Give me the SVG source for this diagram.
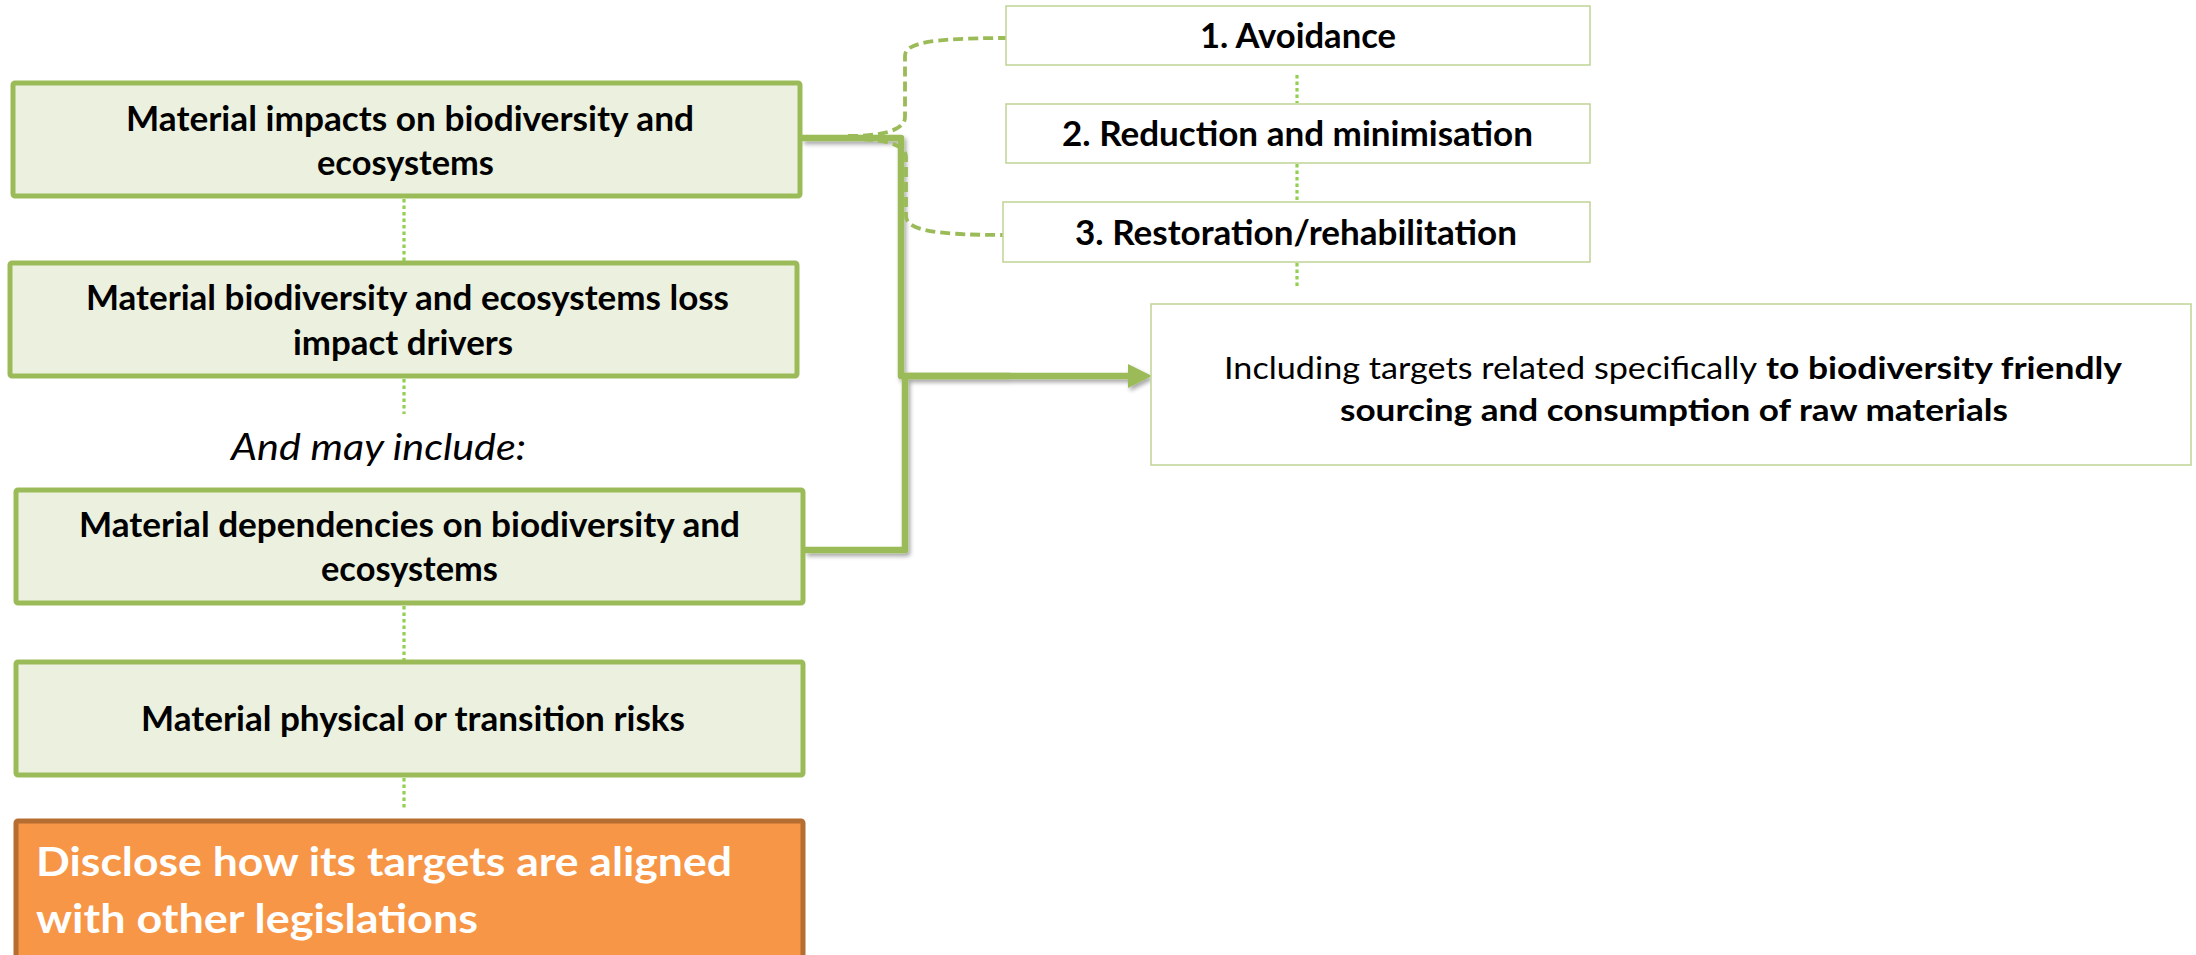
<svg xmlns="http://www.w3.org/2000/svg" width="2196" height="955" viewBox="0 0 2196 955">
  <defs>
    <style>
      .gbox { fill: #EBF1DE; stroke: #9BBB59; stroke-width: 5; }
      .wbox { fill: #FFFFFF; stroke: #C3D69B; stroke-width: 1.6; }
      .obox { fill: #F79646; stroke: #B66D31; stroke-width: 5; }
      .lbl { font-family: Lato, "Liberation Sans", sans-serif; font-weight: 700; font-size: 35px; fill: #000; }
      .big { font-family: Lato, "Liberation Sans", sans-serif; font-weight: 700; font-size: 40px; fill: #FFFFFF; }
      .note { font-family: Lato, "Liberation Sans", sans-serif; font-style: italic; font-size: 36px; fill: #000; }
      .tgt { font-family: Lato, "Liberation Sans", sans-serif; font-size: 31px; fill: #000; }
      .b { font-weight: 700; }
      .dot { fill: none; stroke: #92D050; stroke-width: 3.2; stroke-dasharray: 3.5 3; }
      .dash { fill: none; stroke: #9BBB59; stroke-width: 3.8; stroke-dasharray: 10 5; }
      .main { fill: none; stroke: #9BBB59; stroke-width: 6.5; stroke-linejoin: round; }
    </style>
    <filter id="shadow" x="-10%" y="-10%" width="130%" height="130%">
      <feDropShadow dx="2" dy="3" stdDeviation="2" flood-color="#000" flood-opacity="0.35"/>
    </filter>
    <marker id="arrow" markerUnits="userSpaceOnUse" markerWidth="24" markerHeight="24" refX="0" refY="12" orient="auto">
      <path d="M0,0 L24,12 L0,24 z" fill="#9BBB59"/>
    </marker>
  </defs>

  <!-- connectors -->
  <g id="connectors">
    <g filter="url(#shadow)">
      <path class="main" d="M802,138 H901 V376 H1128" marker-end="url(#arrow)"/>
      <path class="main" d="M805,550 H905 V376 H1010"/>
    </g>
    <path class="dash" d="M848,136 C880,136 905,131 905,117 V56 C905,44 925,38 1006,38"/>
    <path class="dash" d="M848,139 C880,139 906,143 906,157 V216 C906,228 925,235 1003,235"/>
    <line class="dot" x1="404" y1="199" x2="404" y2="261"/>
    <line class="dot" x1="404" y1="379" x2="404" y2="414"/>
    <line class="dot" x1="404" y1="606" x2="404" y2="660"/>
    <line class="dot" x1="404" y1="778" x2="404" y2="810"/>
    <line class="dot" x1="1297" y1="75" x2="1297" y2="103"/>
    <line class="dot" x1="1297" y1="164" x2="1297" y2="201"/>
    <line class="dot" x1="1297" y1="263" x2="1297" y2="287"/>
  </g>

  <!-- left column -->
  <g id="impacts">
    <rect class="gbox" x="13" y="83" width="787" height="113" rx="2"/>
    <text class="lbl" x="126" y="131" textLength="568" lengthAdjust="spacingAndGlyphs">Material impacts on biodiversity and</text>
    <text class="lbl" x="317" y="175" textLength="177" lengthAdjust="spacingAndGlyphs">ecosystems</text>
  </g>
  <g id="drivers">
    <rect class="gbox" x="10" y="263" width="787" height="113" rx="2"/>
    <text class="lbl" x="86" y="310" textLength="643" lengthAdjust="spacingAndGlyphs">Material biodiversity and ecosystems loss</text>
    <text class="lbl" x="293" y="355" textLength="220" lengthAdjust="spacingAndGlyphs">impact drivers</text>
  </g>
  <g id="may-include">
    <text class="note" x="231" y="460" textLength="295" lengthAdjust="spacingAndGlyphs">And may include:</text>
  </g>
  <g id="dependencies">
    <rect class="gbox" x="16" y="490" width="787" height="113" rx="2"/>
    <text class="lbl" x="79" y="537" textLength="661" lengthAdjust="spacingAndGlyphs">Material dependencies on biodiversity and</text>
    <text class="lbl" x="321" y="581" textLength="177" lengthAdjust="spacingAndGlyphs">ecosystems</text>
  </g>
  <g id="risks">
    <rect class="gbox" x="16" y="662" width="787" height="113" rx="2"/>
    <text class="lbl" x="141" y="731" textLength="544" lengthAdjust="spacingAndGlyphs">Material physical or transition risks</text>
  </g>
  <g id="alignment">
    <rect class="obox" x="16" y="821" width="787" height="150" rx="2"/>
    <text class="big" x="36" y="876" textLength="696" lengthAdjust="spacingAndGlyphs">Disclose how its targets are aligned</text>
    <text class="big" x="36" y="933" textLength="442" lengthAdjust="spacingAndGlyphs">with other legislations</text>
  </g>

  <!-- mitigation hierarchy -->
  <g id="avoidance">
    <rect class="wbox" x="1006" y="6" width="584" height="59"/>
    <text class="lbl" x="1200" y="48" textLength="196" lengthAdjust="spacingAndGlyphs">1. Avoidance</text>
  </g>
  <g id="reduction">
    <rect class="wbox" x="1006" y="104" width="584" height="59"/>
    <text class="lbl" x="1062" y="146" textLength="471" lengthAdjust="spacingAndGlyphs">2. Reduction and minimisation</text>
  </g>
  <g id="restoration">
    <rect class="wbox" x="1003" y="202" width="587" height="60"/>
    <text class="lbl" x="1075" y="245" textLength="442" lengthAdjust="spacingAndGlyphs">3. Restoration/rehabilitation</text>
  </g>

  <!-- targets box -->
  <g id="targets">
    <rect class="wbox" x="1151" y="304" width="1040" height="161"/>
    <text class="tgt" x="1224" y="379" textLength="533" lengthAdjust="spacingAndGlyphs">Including targets related specifically</text>
    <text class="tgt b" x="1766" y="379" textLength="356" lengthAdjust="spacingAndGlyphs">to biodiversity friendly</text>
    <text class="tgt b" x="1340" y="421" textLength="668" lengthAdjust="spacingAndGlyphs">sourcing and consumption of raw materials</text>
  </g>
</svg>
